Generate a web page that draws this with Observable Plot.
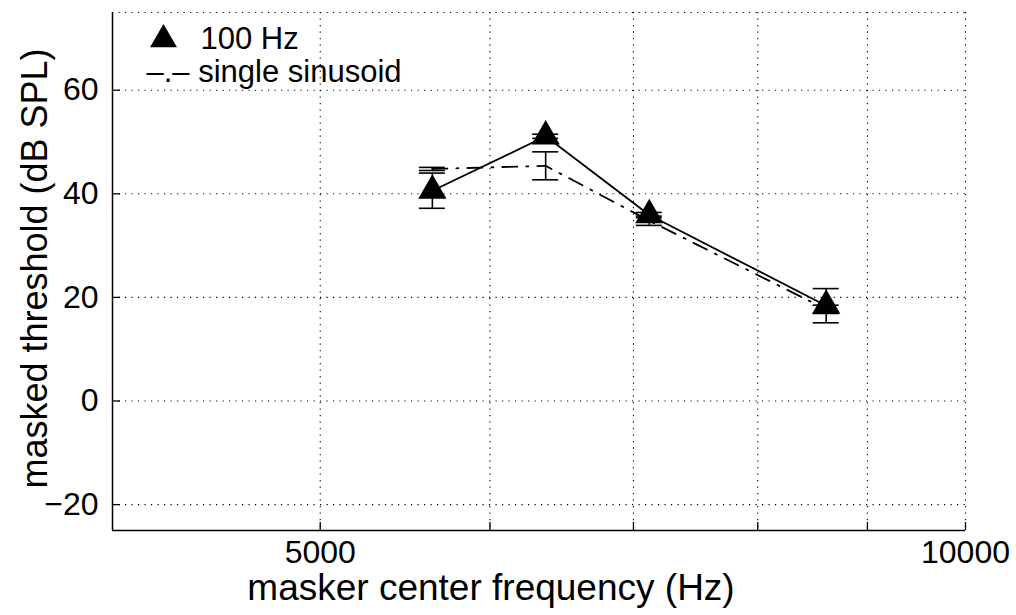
<!DOCTYPE html>
<html>
<head>
<meta charset="utf-8">
<script src="https://cdn.jsdelivr.net/npm/d3@7"></script>
<script src="https://cdn.jsdelivr.net/npm/@observablehq/plot@0.6"></script>
<style>
  html, body { margin: 0; padding: 0; background: #fff; }
  #chart svg { display: block; }
</style>
</head>
<body>
<div id="chart"></div>
<script>
// ---- data ----
const freqs = [5640, 6370, 7120, 8610];           // masker center frequency (Hz)
const hz100 = [40.6, 51.1, 35.9, 18.4];           // 100 Hz, masked threshold (dB SPL)
const hz100Err = [3.4, 0.4, 0.5, 3.3];
const single = [44.8, 45.4, 34.8, 17.7];          // single sinusoid
const singleErr = [0.3, 2.7, 0.9, 0.8];

const xDomain = [4000, 10000];
const yDomain = [-25, 75];
const xTickLabels = [5000, 10000];
const xGridTicks = [5000, 6000, 7000, 8000, 9000];
const xTickMarks = [5000, 6000, 7000, 8000, 9000, 10000];
const yTicks = [-20, 0, 20, 40, 60];

const legendLabels = ["100 Hz", "\u2013.\u2013 single sinusoid"];
const xLabel = "masker center frequency (Hz)";
const yLabel = "masked threshold (dB SPL)";

// ---- tables ----
const rows100 = freqs.map((f, i) => ({f, y: hz100[i], lo: hz100[i] - hz100Err[i], hi: hz100[i] + hz100Err[i]}));
const rowsSin = freqs.map((f, i) => ({f, y: single[i], lo: single[i] - singleErr[i], hi: single[i] + singleErr[i]}));

const dotted = {stroke: "#000", strokeWidth: 1.1, strokeDasharray: "1.2,5.3"};
const capHalf = 13;
const tickFont = 32, yLabelFont = 36, xLabelFont = 37, legendFont = 31;

const chart = Plot.plot({
  width: 1016,
  height: 615,
  marginLeft: 112,
  marginRight: 51,
  marginTop: 12,
  marginBottom: 85,
  style: {fontFamily: "'Liberation Sans', Arial, Helvetica, sans-serif", fontSize: "30px", color: "#000", background: "#fff"},
  x: {type: "log", domain: xDomain, axis: null},
  y: {domain: yDomain, axis: null},
  marks: [
    // dotted grid
    Plot.ruleY(yTicks, {...dotted}),
    Plot.ruleX(xGridTicks, {...dotted}),
    Plot.ruleY([yDomain[1]], {...dotted}),
    Plot.ruleX([xDomain[1]], {...dotted}),
    // axis lines
    Plot.ruleX([xDomain[0]], {stroke: "#000", strokeWidth: 1.5}),
    Plot.ruleY([yDomain[0]], {stroke: "#000", strokeWidth: 1.5}),
    // inward tick marks
    Plot.ruleX(xTickMarks, {y1: yDomain[0], y2: yDomain[0], insetTop: -8, stroke: "#000", strokeWidth: 1.3}),
    Plot.ruleY(yTicks, {x1: xDomain[0], x2: xDomain[0], insetRight: -8, stroke: "#000", strokeWidth: 1.3}),
    // tick labels
    Plot.axisX(xTickLabels, {anchor: "bottom", tickSize: 0, tickPadding: 10, tickFormat: d => String(d), fill: "#000", fontSize: tickFont, label: null}),
    Plot.axisY(yTicks, {anchor: "left", tickSize: 0, tickPadding: 14, fill: "#000", fontSize: tickFont, label: null}),
    // axis labels
    Plot.text([xLabel], {frameAnchor: "bottom", dx: -48, dy: 58, text: d => d, textAnchor: "middle", lineAnchor: "middle", fill: "#000", fontSize: xLabelFont}),
    Plot.text([yLabel], {frameAnchor: "left", dx: -77, dy: -3, rotate: -90, text: d => d, textAnchor: "middle", lineAnchor: "middle", fill: "#000", fontSize: yLabelFont}),
    // single sinusoid (dash-dot)
    Plot.line(rowsSin, {x: "f", y: "y", stroke: "#000", strokeWidth: 1.8, strokeDasharray: "15,9,2,9"}),
    Plot.ruleX(rowsSin, {x: "f", y1: "lo", y2: "hi", stroke: "#000", strokeWidth: 1.6}),
    Plot.ruleY(rowsSin, {y: "lo", x1: "f", x2: "f", insetLeft: -capHalf, insetRight: -capHalf, stroke: "#000", strokeWidth: 1.6}),
    Plot.ruleY(rowsSin, {y: "hi", x1: "f", x2: "f", insetLeft: -capHalf, insetRight: -capHalf, stroke: "#000", strokeWidth: 1.6}),
    // 100 Hz (solid + triangles)
    Plot.line(rows100, {x: "f", y: "y", stroke: "#000", strokeWidth: 1.8}),
    Plot.ruleX(rows100, {x: "f", y1: "lo", y2: "hi", stroke: "#000", strokeWidth: 1.6}),
    Plot.ruleY(rows100, {y: "lo", x1: "f", x2: "f", insetLeft: -capHalf, insetRight: -capHalf, stroke: "#000", strokeWidth: 1.6}),
    Plot.ruleY(rows100, {y: "hi", x1: "f", x2: "f", insetLeft: -capHalf, insetRight: -capHalf, stroke: "#000", strokeWidth: 1.6}),
    Plot.dot(rows100, {x: "f", y: "y", symbol: "triangle", r: 10.5, fill: "#000", stroke: "none"}),
    // legend
    Plot.dot([legendLabels[0]], {frameAnchor: "top-left", dx: 51, dy: 27, symbol: "triangle", r: 10, fill: "#000", stroke: "none"}),
    Plot.text([legendLabels[0]], {frameAnchor: "top-left", dx: 88, dy: 27, text: d => d, textAnchor: "start", lineAnchor: "middle", fill: "#000", fontSize: legendFont}),
    Plot.text([legendLabels[1]], {frameAnchor: "top-left", dx: 34, dy: 60, text: d => d, textAnchor: "start", lineAnchor: "middle", fill: "#000", fontSize: legendFont})
  ]
});
document.getElementById("chart").appendChild(chart);
</script>
</body>
</html>
